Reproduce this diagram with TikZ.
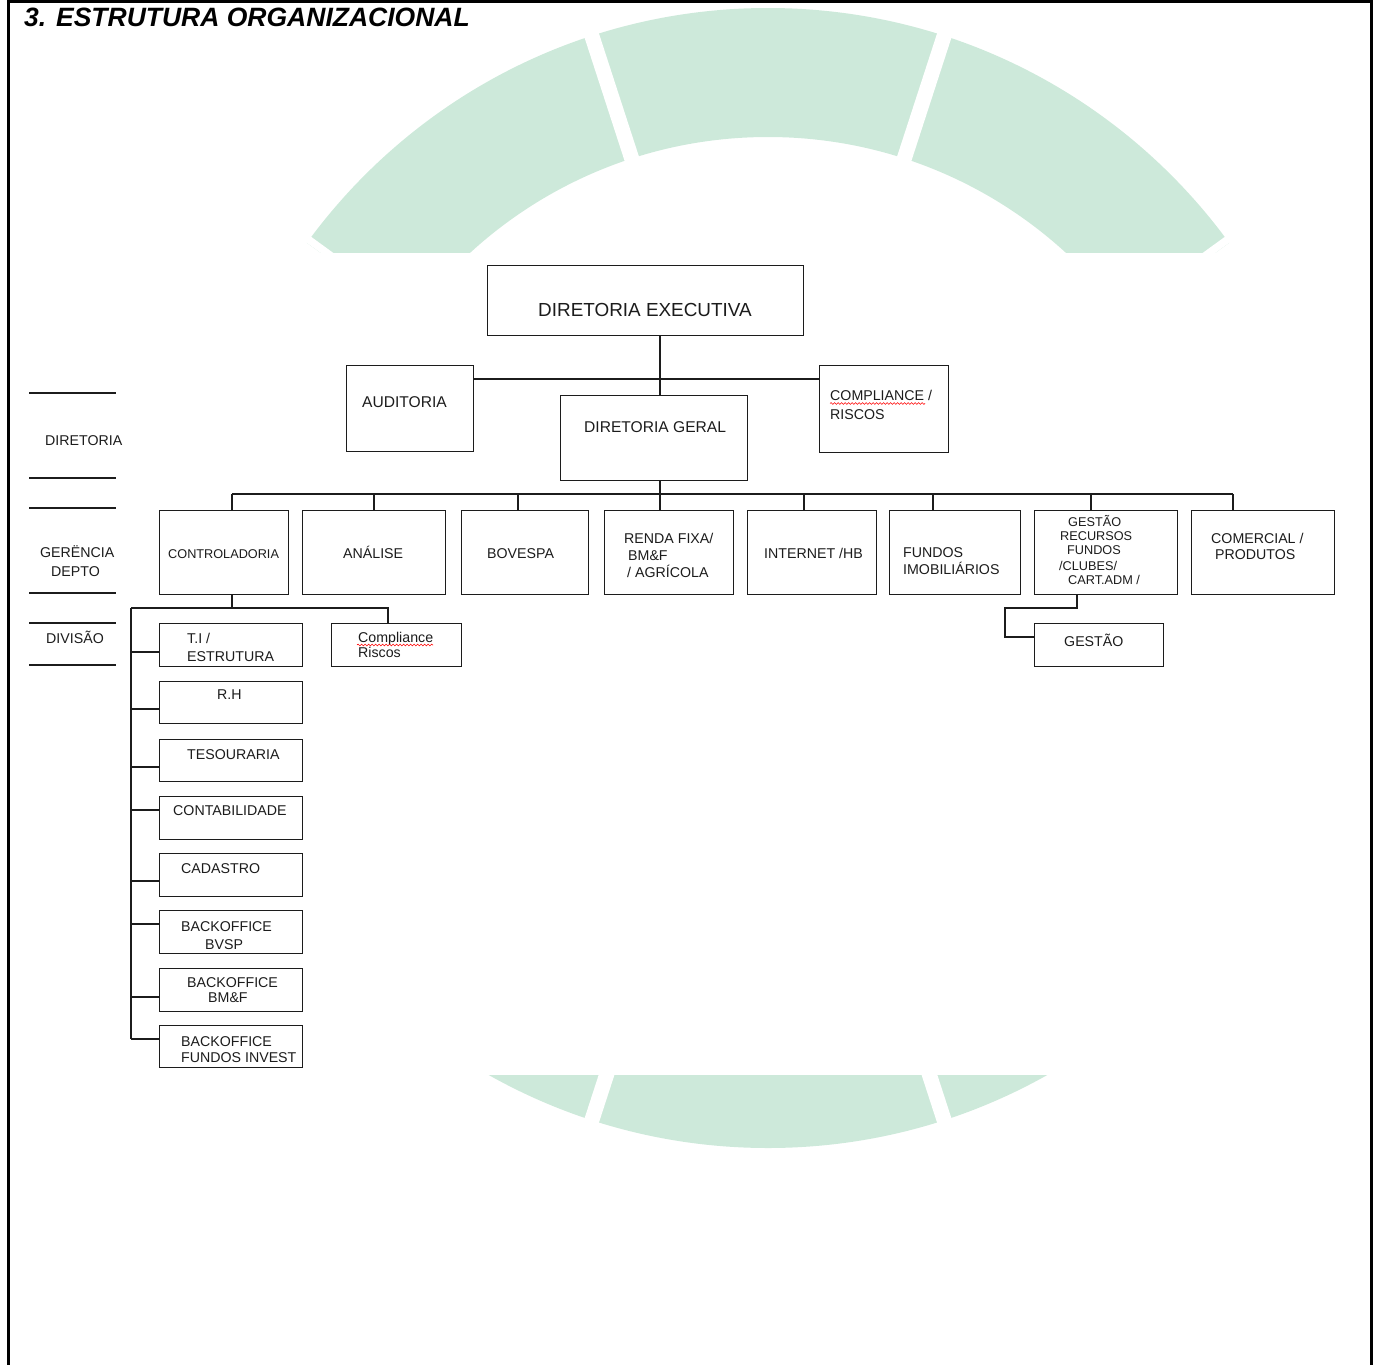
\documentclass[tikz,border=0pt]{standalone}
\usepackage{fontspec}
\setmainfont{Liberation Sans}
\usetikzlibrary{decorations.pathmorphing}
\definecolor{wm}{RGB}{205,233,218}
\definecolor{ln}{RGB}{28,28,28}
\begin{document}
\begin{tikzpicture}[x=1pt,y=-1pt,
  box/.style={draw=ln, line width=1.4pt, rectangle, inner sep=0pt, anchor=north west},
  conn/.style={draw=ln, line width=1.4pt},
  txt/.style={anchor=base west, inner sep=0pt, text=ln, font=\fontsize{14.2}{16}\selectfont},
  txs/.style={txt, font=\fontsize{12.7}{15}\selectfont},
  txl/.style={txt, font=\fontsize{15.6}{18}\selectfont},
  squig/.style={draw=red, line width=0.6pt, decorate, decoration={snake, amplitude=0.9pt, segment length=3.5pt}}
]
\useasboundingbox (0,0) rectangle (1377,1365);
% watermark
\begin{scope}
\clip (768,578) -- (1577,-10) -- (-41,-10) -- cycle
      (768,578) -- (-41,1166) -- (1577,1166) -- cycle;
\fill[wm, even odd rule] (768,578) circle[radius=570] (768,578) circle[radius=441];
\foreach \a in {0,36,...,324} \draw[white, line width=15pt] (768,578) -- ++(\a:620);
\end{scope}
\fill[white] (0,253) rectangle (1377,1075);
% frame
\draw[black, line width=2.7pt] (8.7,0) -- (8.7,1365);
\draw[black, line width=2.7pt] (1371.4,0) -- (1371.4,1365);
\draw[black, line width=2.7pt] (7.3,1.3) -- (1372.8,1.3);
% title
\node[anchor=base west, inner sep=0pt, font=\fontsize{26.5}{30}\selectfont\bfseries\itshape] (title) at (24,27) {3. ESTRUTURA ORGANIZACIONAL};
% left level labels
\foreach \y [count=\i] in {393,478,508,593,623,665} \draw[conn] (29,\y) -- (116,\y);
\node[txt] (lDir) at (45,445) {DIRETORIA};
\node[txt] (lGer) at (40,557) {GERËNCIA};
\node[txt] (lDep) at (51,576) {DEPTO};
\node[txt] (lDiv) at (46,643) {DIVISÃO};
% boxes
\node[box, minimum width=316pt, minimum height=70pt] (de) at (487,265) {};
\node[box, minimum width=127pt, minimum height=86pt] (aud) at (346,365) {};
\node[box, minimum width=187pt, minimum height=85pt] (dg) at (560,395) {};
\node[box, minimum width=129pt, minimum height=87pt] (comp) at (819,365) {};
\node[box, minimum width=129pt, minimum height=84pt] (ctrl) at (159,510) {};
\node[box, minimum width=143pt, minimum height=84pt] (ana) at (302,510) {};
\node[box, minimum width=127pt, minimum height=84pt] (bov) at (461,510) {};
\node[box, minimum width=129pt, minimum height=84pt] (rf) at (604,510) {};
\node[box, minimum width=129pt, minimum height=84pt] (inet) at (747,510) {};
\node[box, minimum width=131pt, minimum height=84pt] (fim) at (889,510) {};
\node[box, minimum width=143pt, minimum height=84pt] (gr) at (1034,510) {};
\node[box, minimum width=143pt, minimum height=84pt] (com) at (1191,510) {};
\node[box, minimum width=129pt, minimum height=43pt] (ges) at (1034,623) {};
\node[box, minimum width=143pt, minimum height=43pt] (ti) at (159,623) {};
\node[box, minimum width=130pt, minimum height=43pt] (cr) at (331,623) {};
\node[box, minimum width=143pt, minimum height=42pt] (rh) at (159,681) {};
\node[box, minimum width=143pt, minimum height=42pt] (tes) at (159,739) {};
\node[box, minimum width=143pt, minimum height=43pt] (cont) at (159,796) {};
\node[box, minimum width=143pt, minimum height=43pt] (cad) at (159,853) {};
\node[box, minimum width=143pt, minimum height=43pt] (bvsp) at (159,910) {};
\node[box, minimum width=143pt, minimum height=43pt] (bmf) at (159,968) {};
\node[box, minimum width=143pt, minimum height=42pt] (bfi) at (159,1025) {};
% connectors
\coordinate (sp) at (660,0);
\coordinate (h1) at (0,379);
\coordinate (bus) at (0,494);
\coordinate (h2) at (0,608);
\coordinate (trk) at (131,0);
\draw[conn] (sp |- de.south) -- (sp |- dg.north);
\draw[conn] (aud.east |- h1) -- (comp.west |- h1);
\draw[conn] (sp |- dg.south) -- (sp |- bus);
\draw[conn] (232,0 |- bus) -- (1233,0 |- bus);
\foreach \n/\x in {ctrl/232, ana/374, bov/518, rf/660, inet/804, fim/933, gr/1091, com/1233}
  \draw[conn] (\x,0 |- bus) -- (\x,0 |- \n.north);
\draw[conn] (232,0 |- ctrl.south) -- (232,0 |- h2);
\draw[conn] (trk |- h2) -- (388,0 |- h2) -- (388,0 |- cr.north);
\draw[conn] (trk |- h2) -- (131,1039);
\foreach \n/\y in {ti/652, rh/709, tes/767, cont/810, cad/881, bvsp/924, bmf/997, bfi/1039}
  \draw[conn] (131,\y) -- (\n.west |- 0,\y);
\draw[conn] (1077,0 |- gr.south) -- (1077,608) -- (1005,608) -- (1005,637) -- (ges.west |- 0,637);
% texts
\node[txt, font=\fontsize{18.9}{22}\selectfont] (tde) at (538,316) {DIRETORIA EXECUTIVA};
\node[txl] (taud) at (362,407) {AUDITORIA};
\node[txl] (tdg) at (584,432) {DIRETORIA GERAL};
\node[txt] (tcomp1) at (830,400) {COMPLIANCE /};
\node[txt] (tcomp2) at (830,419) {RISCOS};
\draw[squig] (830,403.5) -- (925,403.5);
\node[txs] (tctrl) at (168,558) {CONTROLADORIA};
\node[txt] (tana) at (343,558) {ANÁLISE};
\node[txt] (tbov) at (487,558) {BOVESPA};
\node[txt] (trf1) at (624,543) {RENDA FIXA/};
\node[txt] (trf2) at (628,560) {BM\&F};
\node[txt] (trf3) at (627,577) {/ AGRÍCOLA};
\node[txt] (tinet) at (764,558) {INTERNET /HB};
\node[txt] (tfim1) at (903,557) {FUNDOS};
\node[txt] (tfim2) at (903,574) {IMOBILIÁRIOS};
\node[txs] (tgr1) at (1068,526) {GESTÃO};
\node[txs] (tgr2) at (1060,540) {RECURSOS};
\node[txs] (tgr3) at (1067,554) {FUNDOS};
\node[txs] (tgr4) at (1059,570) {/CLUBES/};
\node[txs] (tgr5) at (1068,584) {CART.ADM /};
\node[txt] (tcom1) at (1211,543) {COMERCIAL /};
\node[txt] (tcom2) at (1215,559) {PRODUTOS};
\node[txt] (tges) at (1064,646) {GESTÃO};
\node[txt] (tti1) at (187,643) {T.I /};
\node[txt] (tti2) at (187,661) {ESTRUTURA};
\node[txt] (tcr1) at (358,642) {Compliance};
\node[txt] (tcr2) at (358,657) {Riscos};
\draw[squig] (357,645) -- (433,645);
\node[txt] (trh) at (217,699) {R.H};
\node[txt] (ttes) at (187,759) {TESOURARIA};
\node[txt] (tcont) at (173,815) {CONTABILIDADE};
\node[txt] (tcad) at (181,873) {CADASTRO};
\node[txt] (tbv1) at (181,931) {BACKOFFICE};
\node[txt] (tbv2) at (205,949) {BVSP};
\node[txt] (tbm1) at (187,987) {BACKOFFICE};
\node[txt] (tbm2) at (208,1002) {BM\&F};
\node[txt] (tbf1) at (181,1046) {BACKOFFICE};
\node[txt] (tbf2) at (181,1062) {FUNDOS INVEST};
\end{tikzpicture}
\end{document}
